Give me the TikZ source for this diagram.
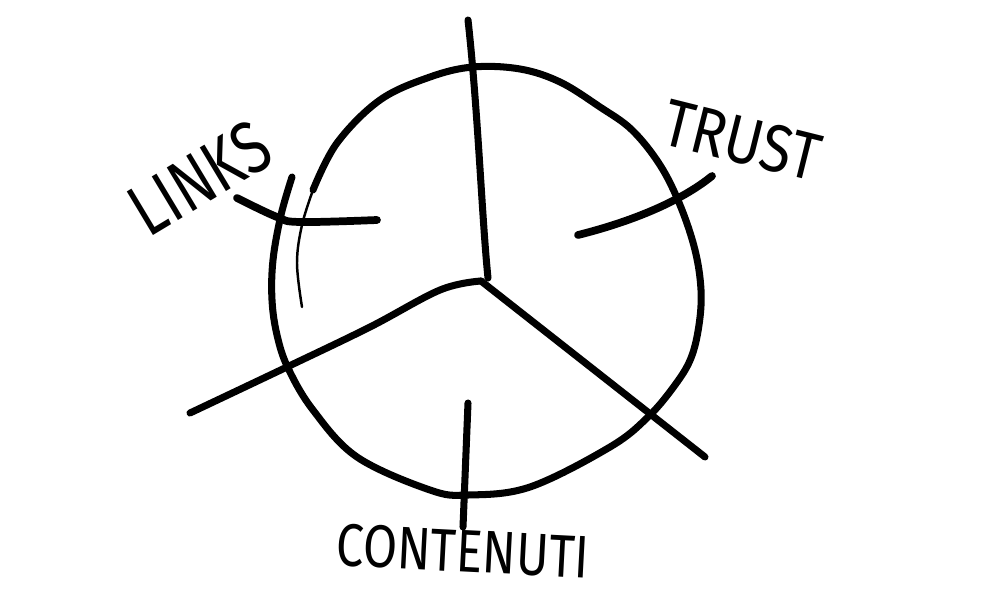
\documentclass[tikz,border=0pt]{standalone}
\usepackage{graphicx}
\usepackage{fontspec}
\setmainfont{Fira Sans}

\begin{document}
\begin{tikzpicture}[
	x=0.01cm, y=-0.01cm,
	stroke/.style={
		draw, line width=2pt, line cap=round, line join=round
	},
	thinstroke/.style={
		draw, line width=0.7pt, line cap=round
	},
	marker/.style={
		draw, line width=2.2pt, line cap=round
	},
	word/.style={
		inner sep=0pt, font=\fontsize{19}{19}\selectfont
	},
	]
	\useasboundingbox (0,0) rectangle (1000,600);
	
	% the wheel
	\draw[stroke] plot[smooth, tension=0.6] coordinates {
		(292,177) (281,215) (273,260) (272,300) (277,335) (288,368)
		(313,410) (357,457) (430,490) (468,495) (530,487) (610,447)
		(648,417) (675,385) (691,358) (699,325) (701,290) (695,250)
		(680,205) (660,165) (632,130) (600,107) (560,82) (520,69)
		(473,67) (430,77) (380,100) (337,143) (313,190)
	};
	\draw[thinstroke] plot[smooth, tension=0.6] coordinates {
		(313,190) (302,225) (297,263) (302,307)
	};
	
	% the three spokes
	\coordinate (hub)   at (481,281);
	\coordinate (north) at (468,20);
	\coordinate (west)  at (190,413);
	\coordinate (east)  at (705,457);
	\draw[stroke] (north) .. controls (478,110) and (482,220) .. (488,278);
	\draw[stroke] plot[smooth, tension=0.6] coordinates {
		(hub) (440,290) (370,327) (287,367) (west)
	};
	\draw[stroke] (hub) -- (east);
	
	% labels
	\node[word, rotate=31, font=\fontsize{21}{21}\selectfont]
		(links) at (200,178) {\scalebox{0.78}[1]{LINKS}};
	\node[word, rotate=-14] (trust)     at (742,140) {\scalebox{0.85}[1]{TRUST}};
	\node[word, rotate=-3]  (contenuti) at (463,551) {\scalebox{0.74}[0.9]{CONTENUTI}};
	
	% marks
	\draw[marker] plot[smooth, tension=0.6] coordinates {
		(237,198) (277,217) (300,222) (377,220)
	};
	\draw[marker] (578,235) .. controls (630,222) and (680,202) .. (712,176);
	\draw[stroke] (468,403) -- (463,527);
	
\end{tikzpicture}
\end{document}
